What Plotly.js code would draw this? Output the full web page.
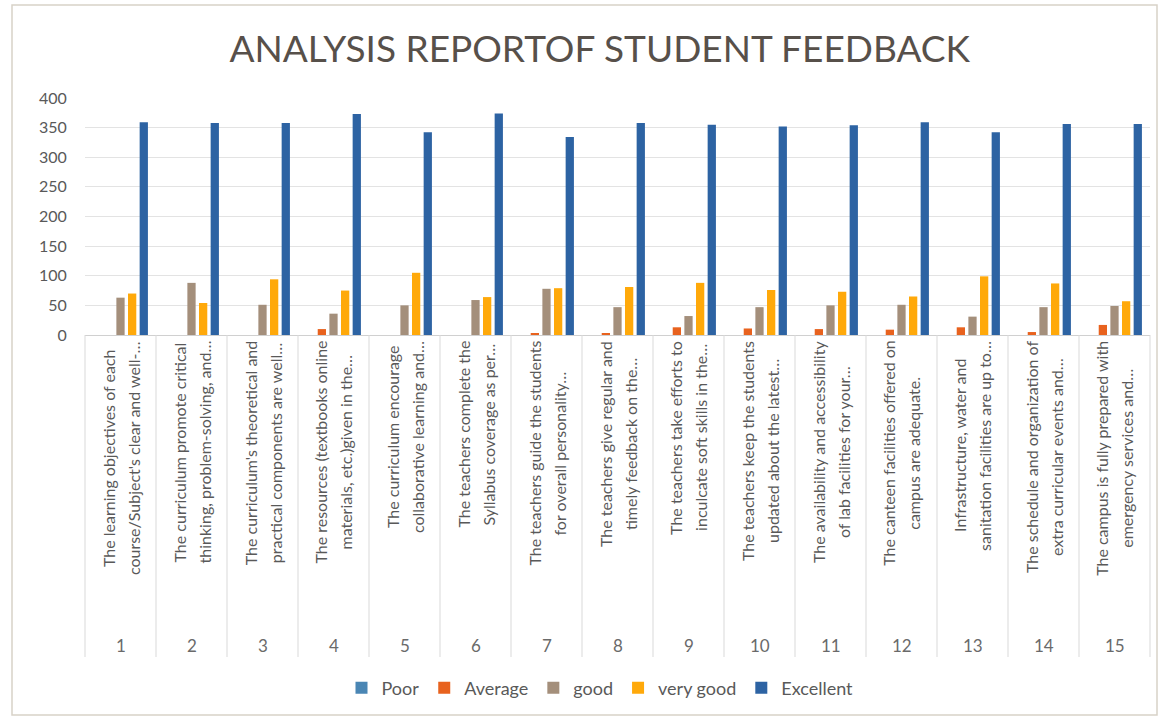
<!DOCTYPE html>
<html>
<head>
<meta charset="utf-8">
<script src="https://cdn.plot.ly/plotly-3.0.1.min.js"></script>
<style>html,body{margin:0;padding:0;background:#fff;}#chart{width:1160px;height:719px;}</style>
</head>
<body>
<div id="chart"></div>
<script>
// ---- Data ----
var categories = ["1","2","3","4","5","6","7","8","9","10","11","12","13","14","15"];
var labelLine1 = [
  "The learning objectives of each",
  "The curriculum promote critical",
  "The curriculum's theoretical and",
  "The resources (textbooks online",
  "The curriculum encourage",
  "The teachers complete the",
  "The teachers guide the students",
  "The teachers give regular and",
  "The teachers take efforts to",
  "The teachers keep the students",
  "The availability and accessibility",
  "The canteen facilities offered on",
  "Infrastructure, water and",
  "The schedule and organization of",
  "The campus is fully prepared with"
];
var labelLine2 = [
  "course/Subject's clear and well-…",
  "thinking, problem-solving, and…",
  "practical components are well…",
  "materials, etc.)given in the…",
  "collaborative learning and…",
  "Syllabus coverage as per…",
  "for overall personality…",
  "timely feedback on the…",
  "inculcate soft skills in the…",
  "updated about the latest…",
  "of lab facilities for your…",
  "campus are adequate.",
  "sanitation facilities are up to…",
  "extra curricular events and…",
  "emergency services and…"
];
var seriesNames = ["Poor","Average","good","very good","Excellent"];
var poor      = [0,0,0,0,0,0,0,0,0,0,0,0,0,0,0];
var average   = [0,0,0,10,0,0,2,3,13,11,10,9,13,5,17];
var good      = [63,88,51,36,50,59,78,47,32,47,50,51,31,47,49];
var veryGood  = [70,54,94,75,105,64,79,81,88,76,73,65,99,87,57];
var excellent = [359,358,358,373,342,374,334,358,355,352,354,359,342,356,356];
var yTicks = [0,50,100,150,200,250,300,350,400];

// ---- Styling ----
var colors = ["#4a86b4","#e8621e","#a48f7b","#ffa90a","#2d63a3"];
var seriesData = [poor, average, good, veryGood, excellent];
var textColor = "#595959";
var FONT = "Lato, 'Open Sans', sans-serif";
var LABEL_SIZE = 16;

var W = 1160, H = 719;
var mL = 85, mR = 10, mT = 98, mB = 384;
var plotW = W - mL - mR, plotH = H - mT - mB;
function px2paperX(px){ return (px - mL) / plotW; }
function px2paperY(py){ return (H - mB - py) / plotH; }

var traces = seriesNames.map(function(name, i){
  return {
    type: "bar",
    name: name,
    x: categories,
    y: seriesData[i],
    marker: {color: colors[i]},
    hoverinfo: "x+y+name"
  };
});

// measure text to centre the two rotated lines
var cnv = document.createElement("canvas");
var ctx = cnv.getContext("2d");
ctx.font = LABEL_SIZE + "px Lato";
function tw(s){ return ctx.measureText(s).width; }

var annotations = [];
var shapes = [];
var n = categories.length;
for (var i = 0; i < n; i++) {
  var maxw = Math.max(tw(labelLine1[i]), tw(labelLine2[i]));
  var cy = 341 + maxw / 2;
  var xPaper = (i + 0.5) / n;
  annotations.push({
    xref: "paper", yref: "paper", x: xPaper, y: px2paperY(cy),
    xanchor: "center", yanchor: "middle", xshift: -12.5,
    text: labelLine1[i], textangle: -90, showarrow: false,
    font: {family: FONT, size: LABEL_SIZE, color: textColor}
  });
  annotations.push({
    xref: "paper", yref: "paper", x: xPaper, y: px2paperY(cy),
    xanchor: "center", yanchor: "middle", xshift: 12.5,
    text: labelLine2[i], textangle: -90, showarrow: false,
    font: {family: FONT, size: LABEL_SIZE, color: textColor}
  });
  annotations.push({
    xref: "paper", yref: "paper", x: xPaper, y: px2paperY(645),
    xanchor: "center", yanchor: "middle",
    text: categories[i], showarrow: false,
    font: {family: FONT, size: 17, color: "#6a6a6a"}
  });
}
for (var k = 0; k <= n; k++) {
  shapes.push({
    type: "line", xref: "paper", yref: "paper",
    x0: k / n, x1: k / n, y0: 0, y1: px2paperY(657),
    line: {color: "#d9d9d9", width: 1}
  });
}
// chart border
shapes.push({
  type: "rect", xref: "paper", yref: "paper",
  x0: px2paperX(12), x1: px2paperX(1157), y0: px2paperY(715), y1: px2paperY(5),
  line: {color: "#d8d2c8", width: 1.5}, fillcolor: "rgba(0,0,0,0)", layer: "below"
});

var layout = {
  width: W, height: H,
  margin: {l: mL, r: mR, t: mT, b: mB},
  paper_bgcolor: "#ffffff", plot_bgcolor: "#ffffff",
  barmode: "group", bargap: 0.18, bargroupgap: 0.29,
  title: {
    text: "ANALYSIS REPORTOF STUDENT FEEDBACK",
    font: {family: FONT, size: 37, color: "#57504a"},
    x: 0.517, xanchor: "center", xref: "container",
    y: 1 - 49 / H, yanchor: "middle", yref: "container"
  },
  xaxis: {
    type: "category", categoryorder: "array", categoryarray: categories,
    showticklabels: false, ticks: "", showgrid: false,
    showline: true, linecolor: "#d0d0d0", linewidth: 1, zeroline: false,
    range: [-0.5, n - 0.5], fixedrange: true
  },
  yaxis: {
    range: [0, 400], tickvals: yTicks, ticktext: yTicks.map(String),
    showgrid: true, gridcolor: "#e3e3e3", gridwidth: 1,
    zeroline: false, showline: false,
    ticks: "outside", ticklen: 14, tickcolor: "rgba(0,0,0,0)",
    tickfont: {family: FONT, size: 16, color: textColor},
    fixedrange: true
  },
  legend: {
    orientation: "h", x: px2paperX(600), xanchor: "center",
    y: px2paperY(688), yanchor: "middle",
    font: {family: FONT, size: 18, color: textColor},
    itemwidth: 30, traceorder: "normal"
  },
  showlegend: true,
  annotations: annotations,
  shapes: shapes
};

Plotly.newPlot("chart", traces, layout, {displayModeBar: false});
</script>
</body>
</html>
